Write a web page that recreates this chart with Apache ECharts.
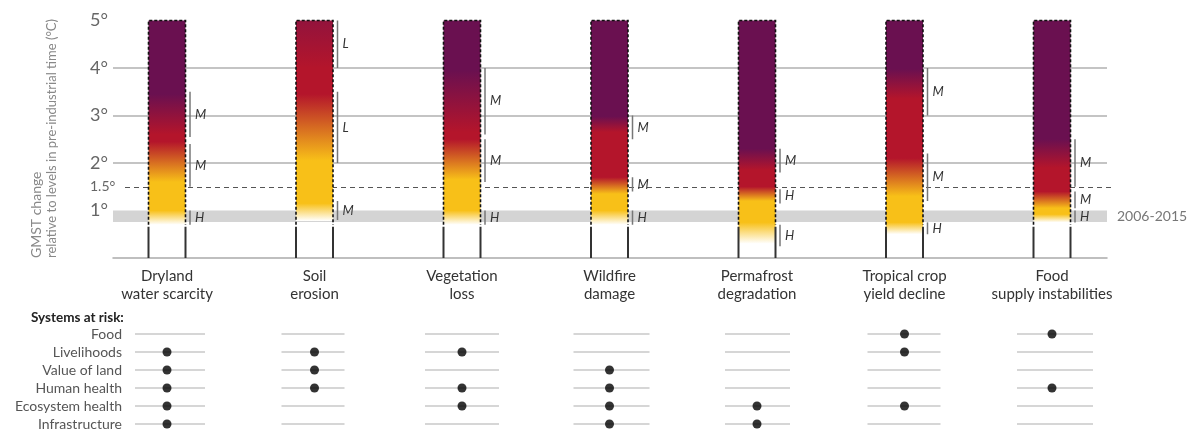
<!DOCTYPE html>
<html><head><meta charset="utf-8">
<script src="https://cdn.jsdelivr.net/npm/echarts@6/dist/echarts.min.js"></script>
<style>html,body{margin:0;padding:0;background:#fff}#c{width:1200px;height:447px}</style>
</head><body><div id="c"></div>
<script>
// ---------------- DATA ----------------
const categories = ['Dryland\nwater scarcity','Soil\nerosion','Vegetation\nloss','Wildfire\ndamage','Permafrost\ndegradation','Tropical crop\nyield decline','Food\nsupply instabilities'];
// ember colour stops: [temperature °C, risk level 0=undetectable,1=moderate,2=high,3=very high]
const emberStops = [
  [[0.7,0],[1.0,1],[1.6,1],[2.45,2],[2.6,2],[3.45,3],[5,3]],
  [[0.78,0],[1.15,1],[2.05,1],[3.45,2],[4.0,2],[5,2.45]],
  [[0.7,0],[1.0,1],[1.65,1],[2.5,2],[2.65,2],[3.95,3],[5,3]],
  [[0.7,0],[1.0,1],[1.35,1],[1.7,2],[2.65,2],[2.98,3],[5,3]],
  [[0.3,0],[0.75,1],[1.2,1],[1.5,2],[1.85,2],[2.3,3],[5,3]],
  [[0.5,0],[0.75,1],[1.3,1],[2.1,2],[3.35,2],[3.98,3],[5,3]],
  [[0.75,0],[0.92,1],[1.05,1],[1.4,2],[1.9,2],[2.5,3],[5,3]]
];
// confidence brackets: [from °C, to °C, level]
const confidence = [
  [[0.7,1.0,'H'],[1.5,2.4,'M'],[2.55,3.5,'M']],
  [[0.8,1.2,'M'],[2.0,3.5,'L'],[4.0,5.0,'L']],
  [[0.7,1.0,'H'],[1.6,2.5,'M'],[2.6,4.0,'M']],
  [[0.7,1.0,'H'],[1.4,1.7,'M'],[2.5,3.0,'M']],
  [[0.25,0.7,'H'],[1.15,1.45,'H'],[1.8,2.3,'M']],
  [[0.5,0.75,'H'],[1.2,2.2,'M'],[3.0,4.0,'M']],
  [[0.75,1.0,'H'],[1.05,1.4,'M'],[1.5,2.5,'M']]
];
const tempTickLabels = {1:'1°',1.5:'1.5°',2:'2°',3:'3°',4:'4°',5:'5°'};
const gridTemps = [2,3,4];
const refTemp = 1.5;
const recentBand = [0.76, 1.0];
const recentBandLabel = '2006-2015';
const systems = ['Food','Livelihoods','Value of land','Human health','Ecosystem health','Infrastructure'];
const systemsAtRisk = [[1,2,3,4,5],[1,2,3],[1,3,4],[2,3,4,5],[4,5],[0,1,4],[0,3]];
const yMin = 0, yMax = 5;

// ---------------- LAYOUT / STYLE ----------------
const FONT = 'Lato, "Noto Sans", sans-serif';
const EMBER_W = 37;
const SOLID_TOP = 0.7;
const rowLineExt = [[-32,38],[-33,30],[-37,37],[-36,40],[-32,33],[-37,36],[-35,41]];
const LEVEL_COLORS = [[255,255,255],[248,192,24],[180,21,43],[106,16,80]];
function levelColor(l){
  l = Math.max(0, Math.min(3, l));
  const i = Math.min(2, Math.floor(l)); const f = l - i;
  const a = LEVEL_COLORS[i], b = LEVEL_COLORS[i+1];
  return 'rgb(' + a.map((v,k)=>Math.round(v + (b[k]-v)*f)).join(',') + ')';
}

const flatBrackets = [];
confidence.forEach((list, ci) => list.forEach(b => flatBrackets.push({col:ci, lo:b[0], hi:b[1], lvl:b[2]})));
const rowCells = [];
categories.forEach((c, ci) => systems.forEach((s, ri) => rowCells.push([ci, ri])));
const dots = [];
systemsAtRisk.forEach((rows, ci) => rows.forEach(ri => dots.push([ci, ri])));

const chart = echarts.init(document.getElementById('c'), null, {renderer:'canvas'});
const option = {
  animation: false,
  backgroundColor: '#fff',
  title: {text:'Systems at risk:', left: 26, top: 306, textStyle:{fontFamily:FONT, fontSize:13.5, fontWeight:'bold', color:'#222'}},
  graphic: [
    {type:'text', x:36, y:258, rotation:Math.PI/2, style:{text:'GMST change', font:'14px '+FONT, fill:'#888', align:'left', verticalAlign:'middle'}},
    {type:'text', x:52, y:258, rotation:Math.PI/2, style:{text:'relative to levels in pre-industrial time (°C)', font:'13px '+FONT, fill:'#888', align:'left', verticalAlign:'middle'}}
  ],
  grid: [
    {left:113, right:93, top:20.5, bottom:189},
    {left:93.25, right:74.25, top:20.5, bottom:189},
    {left:93.25, right:74.25, top:334, bottom:23},
    {left:125, right:86, top:20.5, bottom:189}
  ],
  xAxis: [
    {gridIndex:0, type:'value', min:0, max:1, axisLine:{show:true, onZero:false, lineStyle:{color:'#aaa', width:1.5}}, axisTick:{show:false}, axisLabel:{show:false}, splitLine:{show:false}},
    {gridIndex:1, type:'category', data:categories, axisLine:{show:false}, axisTick:{show:false}, splitLine:{show:false},
      axisLabel:{fontFamily:FONT, fontSize:15, lineHeight:18, color:'#333', margin:9, interval:0}},
    {gridIndex:2, type:'category', data:categories, show:false},
    {gridIndex:3, type:'value', min:0, max:1, show:false}
  ],
  yAxis: [
    {gridIndex:0, type:'value', min:yMin, max:yMax, interval:0.5, axisLine:{show:false}, axisTick:{show:false}, splitLine:{show:false},
      axisLabel:{align:'left', margin:23, color:'#666', fontFamily:FONT, fontSize:18,
        formatter: v => { const t = tempTickLabels[v]; if(!t) return ''; return v === 1.5 ? '{s|'+t+'}' : t; },
        rich:{s:{fontSize:14, color:'#666', fontFamily:FONT}}}},
    {gridIndex:1, type:'value', min:yMin, max:yMax, show:false},
    {gridIndex:2, type:'category', data:systems, inverse:true, boundaryGap:false, offset:-28.75,
      axisLine:{show:false}, axisTick:{show:false}, splitLine:{show:false},
      axisLabel:{interval:0, hideOverlap:false, margin:0, fontFamily:FONT, fontSize:14, color:'#555', align:'right'}},
    {gridIndex:3, type:'value', min:yMin, max:yMax, show:false}
  ],
  series: [
    {type:'line', xAxisIndex:0, yAxisIndex:0, data:[], silent:true, z:1,
      markLine:{silent:true, symbol:'none', label:{show:false}, lineStyle:{color:'#b0b0b0', width:1.5, type:'solid'},
        data: gridTemps.map(t => ({yAxis:t}))},
      markArea:{silent:true, itemStyle:{color:'#d4d4d4'},
        label:{show:true, position:'right', distance:10, formatter:recentBandLabel, color:'#777', fontFamily:FONT, fontSize:14},
        data:[[{yAxis:recentBand[0]},{yAxis:recentBand[1]}]]}
    },
    {type:'line', xAxisIndex:3, yAxisIndex:3, data:[], silent:true, z:1,
      markLine:{silent:true, symbol:'none', label:{show:false}, lineStyle:{color:'#555', width:1.2, type:[5,4]},
        data:[{yAxis:refTemp}]}
    },
    {type:'custom', xAxisIndex:1, yAxisIndex:1, z:5, silent:true,
      data: categories.map((c,i)=>[i, emberStops[i][0][0]]),
      renderItem: (params, api) => {
        const i = params.dataIndex;
        const stops = emberStops[i];
        const b = stops[0][0];
        const top = api.coord([i, yMax]);
        const bot = api.coord([i, b]);
        const base = api.coord([i, 0]);
        const sTop = api.coord([i, SOLID_TOP]);
        const cx = top[0], hw = EMBER_W/2;
        const colorStops = stops.map(s => ({offset:(s[0]-b)/(yMax-b), color:levelColor(s[1])}));
        return {type:'group', children:[
          {type:'rect', shape:{x:cx-hw, y:top[1], width:EMBER_W, height:bot[1]-top[1]},
            style:{fill:{type:'linear', x:0, y:1, x2:0, y2:0, colorStops:colorStops, global:false}}},
          {type:'polyline', shape:{points:[[cx-hw, sTop[1]],[cx-hw, top[1]],[cx+hw, top[1]],[cx+hw, sTop[1]]]},
            style:{stroke:'#111', lineWidth:1.6, lineDash:[3,2], fill:null}},
          {type:'line', shape:{x1:cx-hw, y1:sTop[1]+2, x2:cx-hw, y2:base[1]}, style:{stroke:'#333', lineWidth:2}},
          {type:'line', shape:{x1:cx+hw, y1:sTop[1]+2, x2:cx+hw, y2:base[1]}, style:{stroke:'#333', lineWidth:2}}
        ]};
      }
    },
    {type:'custom', xAxisIndex:1, yAxisIndex:1, z:6, silent:true,
      data: flatBrackets.map(b => [b.col, b.lo, b.hi]),
      renderItem: (params, api) => {
        const br = flatBrackets[params.dataIndex];
        const p1 = api.coord([api.value(0), api.value(1)]);
        const p2 = api.coord([api.value(0), api.value(2)]);
        const x = p1[0] + EMBER_W/2 + 4.5;
        return {type:'group', children:[
          {type:'line', shape:{x1:x, y1:p1[1], x2:x, y2:p2[1]}, style:{stroke:'#777', lineWidth:1.5}},
          {type:'text', style:{x:x+5, y:(p1[1]+p2[1])/2, text:br.lvl, font:'italic 13px '+FONT, fill:'#333', align:'left', verticalAlign:'middle'}}
        ]};
      }
    },
    {type:'custom', xAxisIndex:2, yAxisIndex:2, z:2, silent:true,
      data: rowCells,
      renderItem: (params, api) => {
        const ci = api.value(0);
        const p = api.coord([ci, api.value(1)]);
        const ext = rowLineExt[ci];
        return {type:'line', shape:{x1:p[0]+ext[0], y1:p[1], x2:p[0]+ext[1], y2:p[1]}, style:{stroke:'#c8c8c8', lineWidth:1.5}};
      }
    },
    {type:'scatter', xAxisIndex:2, yAxisIndex:2, z:3, silent:true, symbol:'circle', symbolSize:9,
      itemStyle:{color:'#000'}, data: dots}
  ]
};
chart.setOption(option);
</script></body></html>
